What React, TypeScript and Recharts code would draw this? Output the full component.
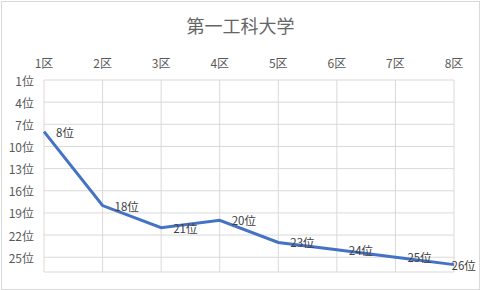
import React from "react";
import { LineChart, Line, XAxis, YAxis, CartesianGrid, LabelList } from "recharts";

const categories = ["1区", "2区", "3区", "4区", "5区", "6区", "7区", "8区"];
const ranks = [8, 18, 21, 20, 23, 24, 25, 26];
const rankTicks = [1, 4, 7, 10, 13, 16, 19, 22, 25];

const data = categories.map((c, i) => ({ name: c, rank: ranks[i] }));

const FONT = "'Noto Sans CJK JP', 'Noto Sans', sans-serif";

const XTick = (props: any) => {
  const { x, payload } = props;
  return (
    <text x={x} y={62} textAnchor="middle" dominantBaseline="central" fontSize={12} fill="#595959" fontFamily={FONT}>
      {payload.value}
    </text>
  );
};

const YTick = (props: any) => {
  const { y, payload } = props;
  return (
    <text x={34} y={y} textAnchor="end" dominantBaseline="central" fontSize={12} fill="#595959" fontFamily={FONT}>
      {payload.value + "位"}
    </text>
  );
};

const DataLabel = (props: any) => {
  const { x, y, value } = props;
  const text = value + "位";
  const w = String(value).length * 6.2 + 11;
  let tx = x + 12;
  if (tx + w > 475) tx = 475 - w;
  return (
    <text x={tx} y={y} textAnchor="start" dominantBaseline="central" fontSize={11.5} fill="#404040" fontFamily={FONT}>
      {text}
    </text>
  );
};

export default function App() {
  return (
    <div style={{ position: "absolute", left: 0, top: 0, width: 481, height: 290, background: "#fff" }}>
      <div
        style={{
          position: "absolute",
          left: 1,
          top: 1,
          width: 479,
          height: 289,
          boxSizing: "border-box",
          border: "1px solid #D9D9D9",
        }}
      />
      <div
        style={{
          position: "absolute",
          left: 0,
          top: 12,
          width: 481,
          textAlign: "center",
          fontFamily: FONT,
          fontSize: 18,
          color: "#666666",
          lineHeight: "26px",
        }}
      >
        第一工科大学
      </div>
      <div style={{ position: "absolute", left: 0, top: 0 }}>
        <LineChart width={481} height={290} data={data} margin={{ top: 50, right: 27, bottom: 18, left: 0 }}>
          <CartesianGrid stroke="#D9D9D9" strokeWidth={1} />
          <XAxis
            dataKey="name"
            orientation="top"
            height={30}
            axisLine={false}
            tickLine={false}
            tick={<XTick />}
            interval={0}
          />
          <YAxis
            type="number"
            reversed
            domain={[1, 27]}
            ticks={rankTicks}
            width={44}
            axisLine={false}
            tickLine={false}
            tick={<YTick />}
            interval={0}
            allowDataOverflow
          />
          <Line
            type="linear"
            dataKey="rank"
            stroke="#4472C4"
            strokeWidth={3}
            dot={false}
            isAnimationActive={false}
          >
            <LabelList dataKey="rank" content={<DataLabel />} />
          </Line>
        </LineChart>
      </div>
    </div>
  );
}
